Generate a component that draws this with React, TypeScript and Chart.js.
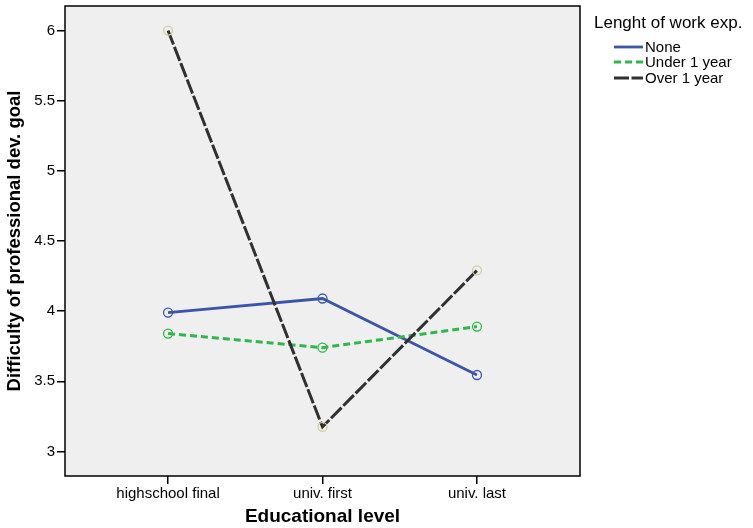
import React, { useEffect, useRef } from "react";
import { Chart, registerables } from "chart.js";

Chart.register(...registerables);

const categories = ["highschool final", "univ. first", "univ. last"];
const seriesNames = ["None", "Under 1 year", "Over 1 year"];
const noneValues = [3.99, 4.09, 3.545];
const under1Values = [3.84, 3.74, 3.89];
const over1Values = [6.0, 3.175, 4.29];
const yTicks = [3, 3.5, 4, 4.5, 5, 5.5, 6];
const legendTitle = "Lenght of work exp.";
const xTitle = "Educational level";
const yTitle = "Difficulty of professional dev. goal";

const FONT = "Arial, 'Liberation Sans', sans-serif";

export default function App() {
  const ref = useRef<HTMLCanvasElement | null>(null);

  useEffect(() => {
    document.body.style.margin = "0";
    const canvas = ref.current!;
    const toPts = (vals: number[]) => vals.map((v, i) => ({ x: i, y: v }));

    const bgPlugin = {
      id: "plotBg",
      beforeDraw(chart: any) {
        const { ctx, chartArea: a } = chart;
        ctx.save();
        ctx.fillStyle = "#ffffff";
        ctx.fillRect(0, 0, chart.width, chart.height);
        ctx.fillStyle = "#efefef";
        ctx.fillRect(a.left, a.top, a.right - a.left, a.bottom - a.top);
        ctx.restore();
      },
      afterDraw(chart: any) {
        const { ctx, chartArea: a } = chart;
        ctx.save();
        ctx.strokeStyle = "#000000";
        ctx.lineWidth = 1.5;
        ctx.strokeRect(a.left, a.top, a.right - a.left, a.bottom - a.top);
        // legend
        ctx.fillStyle = "#000000";
        ctx.textBaseline = "middle";
        ctx.textAlign = "left";
        ctx.font = `17px ${FONT}`;
        ctx.fillText(legendTitle, 594, 23);
        ctx.font = `15px ${FONT}`;
        const ys = [47, 62, 78];
        chart.data.datasets.forEach((ds: any, i: number) => {
          ctx.save();
          ctx.strokeStyle = ds.borderColor;
          ctx.lineWidth = ds.borderWidth;
          ctx.setLineDash(ds.borderDash || []);
          ctx.beginPath();
          ctx.moveTo(614, ys[i]);
          ctx.lineTo(643, ys[i]);
          ctx.stroke();
          ctx.restore();
          ctx.fillStyle = "#000000";
          ctx.fillText(ds.label, 645, ys[i] + 1);
        });
        ctx.restore();
      },
    };

    const chart = new Chart(canvas, {
      type: "line",
      data: {
        datasets: [
          {
            label: seriesNames[0],
            data: toPts(noneValues),
            borderColor: "#3d55a9",
            borderWidth: 2.8,
            pointRadius: 4.5,
            pointBorderWidth: 1.3,
            pointBorderColor: "#3d55a9",
            pointBackgroundColor: "rgba(0,0,0,0)",
            order: 2,
          },
          {
            label: seriesNames[1],
            data: toPts(under1Values),
            borderColor: "#2fb84a",
            borderWidth: 3,
            borderDash: [7, 4],
            pointRadius: 4.5,
            pointBorderWidth: 1.3,
            pointBorderColor: "#2fb84a",
            pointBackgroundColor: "rgba(0,0,0,0)",
            order: 1,
          },
          {
            label: seriesNames[2],
            data: toPts(over1Values),
            borderColor: "#303030",
            borderWidth: 3,
            borderDash: [15, 2.5],
            pointRadius: 4.5,
            pointBorderWidth: 1.3,
            pointBorderColor: "#d4cd9a",
            pointBackgroundColor: "rgba(0,0,0,0)",
            order: 0,
          },
        ],
      },
      options: {
        responsive: false,
        animation: false,
        events: [],
        layout: { padding: { top: 6, right: 173, left: 0, bottom: 0 } },
        plugins: {
          legend: { display: false },
          tooltip: { enabled: false },
        },
        scales: {
          x: {
            type: "linear",
            min: -0.667,
            max: 2.667,
            afterBuildTicks(scale: any) {
              scale.ticks = categories.map((_, i) => ({ value: i }));
            },
            afterFit(scale: any) {
              scale.height = 52;
              scale.paddingLeft = 0;
              scale.paddingRight = 0;
            },
            ticks: {
              callback: (v: any) => categories[Math.round(Number(v))] ?? "",
              color: "#000000",
              font: { family: FONT, size: 15 },
              padding: 1,
              maxRotation: 0,
              autoSkip: false,
            },
            grid: {
              display: true,
              drawOnChartArea: false,
              drawTicks: true,
              tickLength: 8,
              color: "#000000",
              lineWidth: 1.5,
            },
            border: { display: false },
            title: {
              display: true,
              text: xTitle,
              color: "#000000",
              font: { family: FONT, size: 19, weight: "bold" },
              padding: { top: 0, bottom: 0 },
            },
          },
          y: {
            type: "linear",
            min: 2.825,
            max: 6.175,
            afterBuildTicks(scale: any) {
              scale.ticks = yTicks.map((v) => ({ value: v }));
            },
            afterFit(scale: any) {
              scale.width = 65;
              scale.paddingTop = 0;
              scale.paddingBottom = 0;
            },
            ticks: {
              callback: (v: any) => String(v),
              color: "#000000",
              font: { family: FONT, size: 15 },
              padding: 2,
            },
            grid: {
              display: true,
              drawOnChartArea: false,
              drawTicks: true,
              tickLength: 8,
              color: "#000000",
              lineWidth: 1.5,
            },
            border: { display: false },
            title: {
              display: true,
              text: yTitle,
              color: "#000000",
              font: { family: FONT, size: 18.5, weight: "bold" },
              padding: { top: 4, bottom: 0 },
            },
          },
        },
      },
      plugins: [bgPlugin],
    } as any);

    return () => chart.destroy();
  }, []);

  return <canvas ref={ref} width={753} height={528} style={{ display: "block" }} />;
}
